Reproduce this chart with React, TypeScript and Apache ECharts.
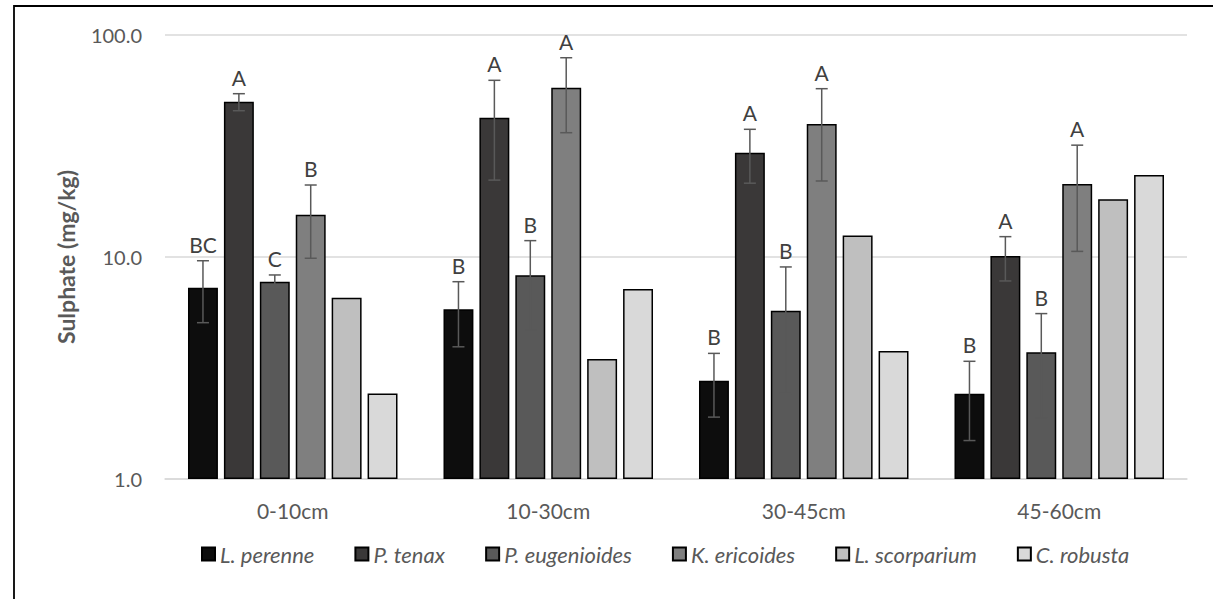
import React, { useEffect, useRef } from "react";
import * as echarts from "echarts";

const categories = ["0-10cm", "10-30cm", "30-45cm", "45-60cm"];
const species = ["L. perenne", "P. tenax", "P. eugenioides", "K. ericoides", "L. scorparium", "C. robusta"];
const colors = ["#0d0d0d", "#3a3838", "#595959", "#7f7f7f", "#bfbfbf", "#d9d9d9"];

// mean values per species, by depth
const lPerenne = [7.27, 5.81, 2.77, 2.42];
const pTenax = [50.1, 42.4, 29.5, 10.1];
const pEugenioides = [7.74, 8.27, 5.73, 3.72];
const kEricoides = [15.5, 57.9, 39.7, 21.3];
const lScorparium = [6.56, 3.47, 12.5, 18.2];
const cRobusta = [2.43, 7.18, 3.77, 23.4];

// error bar bounds (low, high); null = no error bar
const lPerenneErr: ([number, number] | null)[] = [[5.06, 9.62], [3.94, 7.74], [1.9, 3.68], [1.49, 3.39]];
const pTenaxErr: ([number, number] | null)[] = [[45.6, 54.4], [22.2, 62.5], [21.5, 37.6], [7.8, 12.35]];
const pEugenioidesErr: ([number, number] | null)[] = [[7.18, 8.3], [4.69, 11.85], [2.43, 9.02], [1.88, 5.56]];
const kEricoidesErr: ([number, number] | null)[] = [[9.87, 21.1], [36.3, 79.0], [22.0, 57.3], [10.6, 31.9]];
const lScorpariumErr: ([number, number] | null)[] = [null, null, null, null];
const cRobustaErr: ([number, number] | null)[] = [null, null, null, null];

// significance letters
const lPerenneLetters = ["BC", "B", "B", "B"];
const pTenaxLetters = ["A", "A", "A", "A"];
const pEugenioidesLetters = ["C", "B", "B", "B"];
const kEricoidesLetters = ["B", "A", "A", "A"];
const lScorpariumLetters = ["", "", "", ""];
const cRobustaLetters = ["", "", "", ""];

const yTicks = [1, 10, 100];

const values = [lPerenne, pTenax, pEugenioides, kEricoides, lScorparium, cRobusta];
const errs = [lPerenneErr, pTenaxErr, pEugenioidesErr, kEricoidesErr, lScorpariumErr, cRobustaErr];
const letters = [lPerenneLetters, pTenaxLetters, pEugenioidesLetters, kEricoidesLetters, lScorpariumLetters, cRobustaLetters];

const FONT = "Lato, 'Open Sans', sans-serif";
const CAT_GAP = 0.18;
const BAR_GAP = 0.2;
const N = species.length;

export default function App() {
  const ref = useRef<HTMLDivElement>(null);
  useEffect(() => {
    if (!ref.current) return;
    const chart = echarts.init(ref.current, undefined, { renderer: "svg" });

    const barSeries = species.map((name, i) => ({
      name,
      type: "bar",
      data: values[i],
      barGap: `${BAR_GAP * 100}%`,
      barCategoryGap: `${CAT_GAP * 100}%`,
      itemStyle: { color: colors[i], borderColor: "#000", borderWidth: 1.5 },
      z: 2,
    }));

    const errSeries = species.map((name, i) => ({
      name: name + "-err",
      type: "custom",
      z: 5,
      silent: true,
      data: categories.map((_, c) => {
        const e = errs[i][c];
        return [c, e ? e[0] : values[i][c], e ? e[1] : values[i][c], e ? 1 : 0];
      }),
      encode: { x: 0, y: [1, 2] },
      renderItem: (params: any, api: any) => {
        const c = api.value(0);
        const lo = api.value(1);
        const hi = api.value(2);
        const has = api.value(3);
        const band = api.size([1, 0])[0];
        const bw = (band * (1 - CAT_GAP)) / (N + (N - 1) * BAR_GAP);
        const groupW = N * bw + (N - 1) * BAR_GAP * bw;
        const center = api.coord([c, lo]);
        const x = center[0] - groupW / 2 + i * bw * (1 + BAR_GAP) + bw / 2;
        const yLo = api.coord([c, lo])[1];
        const yHi = api.coord([c, hi])[1];
        const children: any[] = [];
        const stroke = { stroke: "#595959", lineWidth: 1.5 };
        if (has) {
          children.push(
            { type: "line", shape: { x1: x, y1: yLo, x2: x, y2: yHi }, style: stroke },
            { type: "line", shape: { x1: x - 6, y1: yLo, x2: x + 6, y2: yLo }, style: stroke },
            { type: "line", shape: { x1: x - 6, y1: yHi, x2: x + 6, y2: yHi }, style: stroke }
          );
        }
        const txt = letters[i][c];
        if (txt) {
          children.push({
            type: "text",
            x,
            y: yHi - 6,
            style: {
              text: txt,
              fill: "#404040",
              font: `21px ${FONT}`,
              align: "center",
              verticalAlign: "bottom",
            },
          });
        }
        return { type: "group", children };
      },
    }));

    chart.setOption({
      animation: false,
      grid: { left: 165, right: 26, top: 35, bottom: 120 },
      graphic: [
        {
          type: "rect",
          shape: { x: 14, y: 6, width: 1400, height: 800 },
          style: { fill: "none", stroke: "#000", lineWidth: 1.8 },
          silent: true,
        },
      ],
      legend: {
        data: species,
        bottom: 29,
        left: 196,
        icon: "rect",
        itemWidth: 13,
        itemHeight: 13,
        itemGap: 40,
        textStyle: { fontFamily: FONT, fontSize: 22, fontStyle: "italic", color: "#595959" },
      },
      xAxis: {
        type: "category",
        data: categories,
        axisLine: { lineStyle: { color: "#d9d9d9", width: 1.5 } },
        axisTick: { show: false },
        axisLabel: { fontFamily: FONT, fontSize: 21, color: "#595959", margin: 21 },
      },
      yAxis: {
        type: "log",
        logBase: 10,
        min: yTicks[0],
        max: yTicks[yTicks.length - 1],
        name: "Sulphate (mg/kg)",
        nameLocation: "middle",
        nameGap: 88,
        nameTextStyle: { fontFamily: FONT, fontSize: 23, fontWeight: "bold", color: "#595959" },
        axisLine: { show: false },
        axisTick: { show: false },
        splitLine: { lineStyle: { color: "#d9d9d9", width: 1.5 } },
        axisLabel: {
          fontFamily: FONT,
          fontSize: 20,
          color: "#595959",
          margin: 23,
          formatter: (v: number) => v.toFixed(1),
        },
      },
      series: [...barSeries, ...errSeries],
    });
    return () => chart.dispose();
  }, []);
  return <div ref={ref} style={{ position: "absolute", left: 0, top: 0, width: 1213, height: 599 }} />;
}
